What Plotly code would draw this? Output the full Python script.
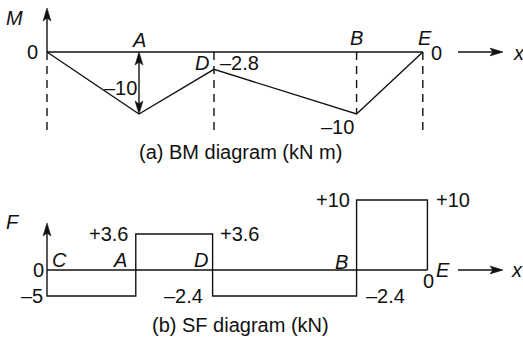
import plotly.graph_objects as go

# ---------------- data ----------------
points = ["C", "A", "D", "B", "E"]
# BM diagram (kN m), positions along beam (m)
bm_x = [0.0, 2.0, 3.63, 6.73, 8.17]
bm_values = [0, -10, -2.8, -10, 0]
bm_labels = ["0", "–10", "–2.8", "–10", "0"]

# SF diagram (kN), segments C-A, A-D, D-B, B-E
sf_x = [0.0, 1.93, 3.6, 6.73, 8.27]
sf_values = [-5, 3.6, -2.4, 10]
sf_labels = ["–5", "+3.6", "–2.4", "+10"]
# drawn (schematic, not to scale) heights of each segment
sf_drawn = [-2.6, 3.6, -2.6, 7.0]

W, H = 523, 343
PX_X = 46.0          # px per m
X0 = 47.0            # px of C
BM_Y0, BM_S = 52.0, 6.2    # px of M=0, px per kN m
SF_Y0, SF_S = 270.0, 10.0  # px of F=0, px per drawn unit
SCALE_Y = {"y": BM_S, "y2": SF_S}

FONT = "Liberation Sans, Arial, sans-serif"
FS = 20
LC = "#111111"
LW = 1.4
HEAD_L, HEAD_W, HEAD_N = 13.0, 3.9, 3.0   # arrowhead length, half width, notch (px)

fig = go.Figure()

def line(x, y, yaxis="y", dash=None):
    fig.add_trace(go.Scatter(x=x, y=y, mode="lines", yaxis=yaxis,
                             line=dict(color=LC, width=LW, dash=dash),
                             hoverinfo="skip", showlegend=False))

def arrow(x0, y0, x1, y1, yaxis="y"):
    """Line from (x0,y0) to (x1,y1) with a barbed head at (x1,y1)."""
    sy = SCALE_Y[yaxis]
    px = (x1 - x0) * PX_X
    py = (y1 - y0) * sy
    d = (px ** 2 + py ** 2) ** 0.5
    ux, uy = px / d, py / d           # unit direction (px space, y up)
    vx, vy = -uy, ux                  # perpendicular

    def pt(a, b):                     # a along, b across (px) from tip -> data
        return x1 + (a * ux + b * vx) / PX_X, y1 + (a * uy + b * vy) / sy

    bx, by = pt(-(HEAD_L - HEAD_N), 0)
    line([x0, bx], [y0, by], yaxis=yaxis)
    poly = [pt(0, 0), pt(-HEAD_L, HEAD_W), pt(-(HEAD_L - HEAD_N), 0),
            pt(-HEAD_L, -HEAD_W), pt(0, 0)]
    fig.add_trace(go.Scatter(x=[p[0] for p in poly], y=[p[1] for p in poly],
                             mode="lines", fill="toself", fillcolor=LC, yaxis=yaxis,
                             line=dict(color=LC, width=0.6),
                             hoverinfo="skip", showlegend=False))

# ---- BM diagram ----
line([bm_x[0], bm_x[-1]], [0, 0])                 # baseline
line(bm_x, bm_values)                             # diagram
dash_bottom = -12.6
for i in [0, 2, 4]:
    line([bm_x[i], bm_x[i]], [0, dash_bottom], dash="8px,6px")
line([bm_x[3], bm_x[3]], [0, bm_values[3]], dash="8px,6px")

# ---- SF diagram ----
line([sf_x[0], sf_x[-1]], [0, 0], yaxis="y2")
xs, ys = [sf_x[0]], [0]
for i, h in enumerate(sf_drawn):
    xs += [sf_x[i], sf_x[i + 1]]
    ys += [h, h]
xs.append(sf_x[-1]); ys.append(0)
line(xs, ys, yaxis="y2")

ann = []

def text(t, x, y, yref="y", xs=0, ys=0, italic=False, xref="x"):
    if italic:
        t = "<i>" + t + "</i>"
    ann.append(dict(text=t, x=x, y=y, xref=xref, yref=yref, xshift=xs, yshift=ys,
                    showarrow=False, font=dict(family=FONT, size=FS, color=LC),
                    xanchor="center", yanchor="middle"))

# axes arrows BM
m_tip = (BM_Y0 - 8) / BM_S
arrow(0, 0, 0, m_tip)
xa_tip = (503 - X0) / PX_X
xa_tail = (458 - X0) / PX_X
arrow(xa_tail, 0, xa_tip, 0)
text("M", 0, m_tip, xs=-33, ys=-10, italic=True)
text("x", xa_tip, 0, xs=16, ys=-1, italic=True)
# double arrow at A
mid = bm_values[1] / 2
arrow(bm_x[1], mid, bm_x[1], 0)
arrow(bm_x[1], mid, bm_x[1], bm_values[1])

text(bm_labels[0], bm_x[0], 0, xs=-15)
text("A", bm_x[1], 0, ys=12, italic=True)
text(bm_labels[1], bm_x[1], 0, xs=-19, ys=-36)
text("D", bm_x[2], 0, xs=-12, ys=-11, italic=True)
text(bm_labels[2], bm_x[2], 0, xs=26, ys=-11)
text("B", bm_x[3], 0, ys=14, italic=True)
text(bm_labels[3], bm_x[3], bm_values[3], xs=-19, ys=-13)
text("E", bm_x[4], 0, xs=2, ys=14, italic=True)
text(bm_labels[4], bm_x[4], 0, xs=14, ys=-1)

# axes arrows SF
f_tip = (SF_Y0 - 223) / SF_S
arrow(0, 0, 0, f_tip, yaxis="y2")
arrow(xa_tail, 0, xa_tip, 0, yaxis="y2")
text("F", 0, f_tip, yref="y2", xs=-34, ys=1, italic=True)
text("x", xa_tip, 0, yref="y2", xs=14, ys=0, italic=True)

text("0", sf_x[0], 0, yref="y2", xs=-9)
text(sf_labels[0], sf_x[0], sf_drawn[0], yref="y2", xs=-15)
text("C", sf_x[0], 0, yref="y2", xs=12, ys=10, italic=True)
text("A", sf_x[1], 0, yref="y2", xs=-16, ys=10, italic=True)
text(sf_labels[1], sf_x[1], sf_drawn[1], yref="y2", xs=-27)
text(sf_labels[1], sf_x[2], sf_drawn[1], yref="y2", xs=27)
text("D", sf_x[2], 0, yref="y2", xs=-12, ys=10, italic=True)
text(sf_labels[2], sf_x[2], sf_drawn[2], yref="y2", xs=-29)
text("B", sf_x[3], 0, yref="y2", xs=-15, ys=8, italic=True)
text(sf_labels[3], sf_x[3], sf_drawn[3], yref="y2", xs=-24)
text(sf_labels[3], sf_x[4], sf_drawn[3], yref="y2", xs=26)
text(sf_labels[2], sf_x[3], sf_drawn[2], yref="y2", xs=29)
text("E", sf_x[4], 0, yref="y2", xs=16, ys=0, italic=True)
text("0", sf_x[4], 0, yref="y2", xs=1, ys=-11)

# captions
for cap, cy in [("(a) BM diagram (kN m)", 152), ("(b) SF diagram (kN)", 325)]:
    ann.append(dict(text=cap, x=240 / W, y=1 - cy / H, xref="paper", yref="paper",
                    showarrow=False, font=dict(family=FONT, size=FS, color=LC),
                    xanchor="center", yanchor="middle"))

fig.update_layout(
    width=W, height=H, margin=dict(l=0, r=0, t=0, b=0),
    paper_bgcolor="white", plot_bgcolor="white", showlegend=False,
    xaxis=dict(visible=False, range=[-X0 / PX_X, (W - X0) / PX_X], fixedrange=True),
    yaxis=dict(visible=False, range=[(BM_Y0 - H) / BM_S, BM_Y0 / BM_S], fixedrange=True),
    yaxis2=dict(visible=False, overlaying="y", range=[(SF_Y0 - H) / SF_S, SF_Y0 / SF_S],
                fixedrange=True),
    annotations=ann,
)

fig.write_html("out.html", config={"displayModeBar": False},
               post_script="document.body.style.margin='0';document.body.style.overflow='hidden';")
